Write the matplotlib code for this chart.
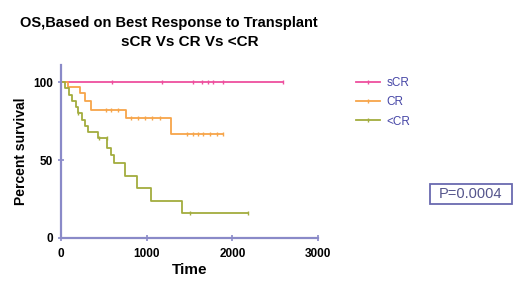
import numpy as np
import matplotlib
matplotlib.use("Agg")
import matplotlib.pyplot as plt
from matplotlib.lines import Line2D
from matplotlib.patches import Rectangle

plt.rcParams['font.family'] = ['Liberation Sans', 'DejaVu Sans']

# Kaplan-Meier steps (time in days, percent survival)
groups = ["sCR", "CR", "<CR"]
colors = ["#ee4f9e", "#f7a54a", "#a3ad3e"]

scr_t = [0, 2590]
scr_s = [100, 100]
scr_cens = [590, 1180, 1540, 1650, 1715, 1775, 1890, 2590]

cr_t = [0, 80, 220, 280, 350, 760, 1280, 1890]
cr_s = [100, 97, 93, 88, 82, 77, 67, 67]
cr_cens = [525, 583, 665, 820, 900, 980, 1060, 1150,
           1470, 1540, 1600, 1660, 1740, 1820, 1890]

lcr_t = [0, 50, 90, 130, 170, 200, 240, 280, 320, 430, 540, 580, 620,
         750, 890, 1050, 1410, 2180]
lcr_s = [100, 96, 92, 88, 84, 80, 76, 72, 68, 64, 58, 53, 48,
         40, 32, 24, 16, 16]
lcr_cens = [200, 440, 535, 1500, 2180]

x_ticks = [0, 1000, 2000, 3000]
y_ticks = [0, 50, 100]
p_text = "P=0.0004"

curves = [(scr_t, scr_s, scr_cens), (cr_t, cr_s, cr_cens), (lcr_t, lcr_s, lcr_cens)]


def level_at(t, s, c):
    # survival level of the step curve at censor time c
    idx = np.searchsorted(t, c, side="right") - 1
    return np.array(s)[idx]


fig = plt.figure(figsize=(5.2, 2.92), dpi=100)
ax = fig.add_axes([61 / 520, 54 / 292, 257 / 520, 173 / 292])

for (t, s, cens), col in zip(curves, colors):
    ax.step(t, s, where="post", color=col, lw=1.3)
    ax.plot(cens, level_at(t, s, cens), ls="none", marker="|", ms=3.5,
            mew=1.0, color=col)

ax.set_xlim(0, 3000)
ax.set_ylim(0, 111)
ax.set_xticks(x_ticks)
ax.set_yticks(y_ticks)

spine_col = "#8a8ac8"
for side in ["top", "right"]:
    ax.spines[side].set_visible(False)
for side in ["left", "bottom"]:
    ax.spines[side].set_color(spine_col)
    ax.spines[side].set_linewidth(1.6)
ax.tick_params(axis="both", colors=spine_col, direction="inout", length=4,
               width=1.2, labelsize=8.5, labelcolor="black")
ax.tick_params(axis="x", pad=5)
ax.tick_params(axis="y", pad=4)
for lab in ax.get_xticklabels() + ax.get_yticklabels():
    lab.set_fontweight("bold")

ax.set_xlabel("Time", fontsize=11, fontweight="bold", labelpad=2)
ax.set_ylabel("Percent survival", fontsize=10, fontweight="bold")
ax.yaxis.set_label_coords(-0.13, 0.5)

# title, two lines placed separately as in the picture
fig.text(20 / 520, 1 - 22.5 / 292, "OS,Based on Best Response to Transplant",
         fontsize=10.5, fontweight="bold", ha="left", va="center")
fig.text(190 / 520, 1 - 41.5 / 292, "sCR Vs CR Vs <CR",
         fontsize=11, fontweight="bold", ha="center", va="center")

handles = [Line2D([0], [0], color=c, lw=1.3, marker="|", ms=3.5) for c in colors]
fig.legend(handles, groups, loc="upper left",
           bbox_to_anchor=(350 / 520, 1 - 71 / 292), frameon=False,
           fontsize=8.5, labelcolor="#4646a6", handlelength=2.0,
           handletextpad=0.6, labelspacing=0.62, borderpad=0)

fig.patches.append(Rectangle((430 / 520, 1 - 204 / 292), 82 / 520, 20 / 292,
                             transform=fig.transFigure, fill=False,
                             edgecolor="#6a6ab0", lw=1.3))
fig.text(471 / 520, 1 - 194 / 292, p_text, fontsize=10.5, color="#55558c",
         ha="center", va="center")

fig.savefig("out.png", dpi=100)
